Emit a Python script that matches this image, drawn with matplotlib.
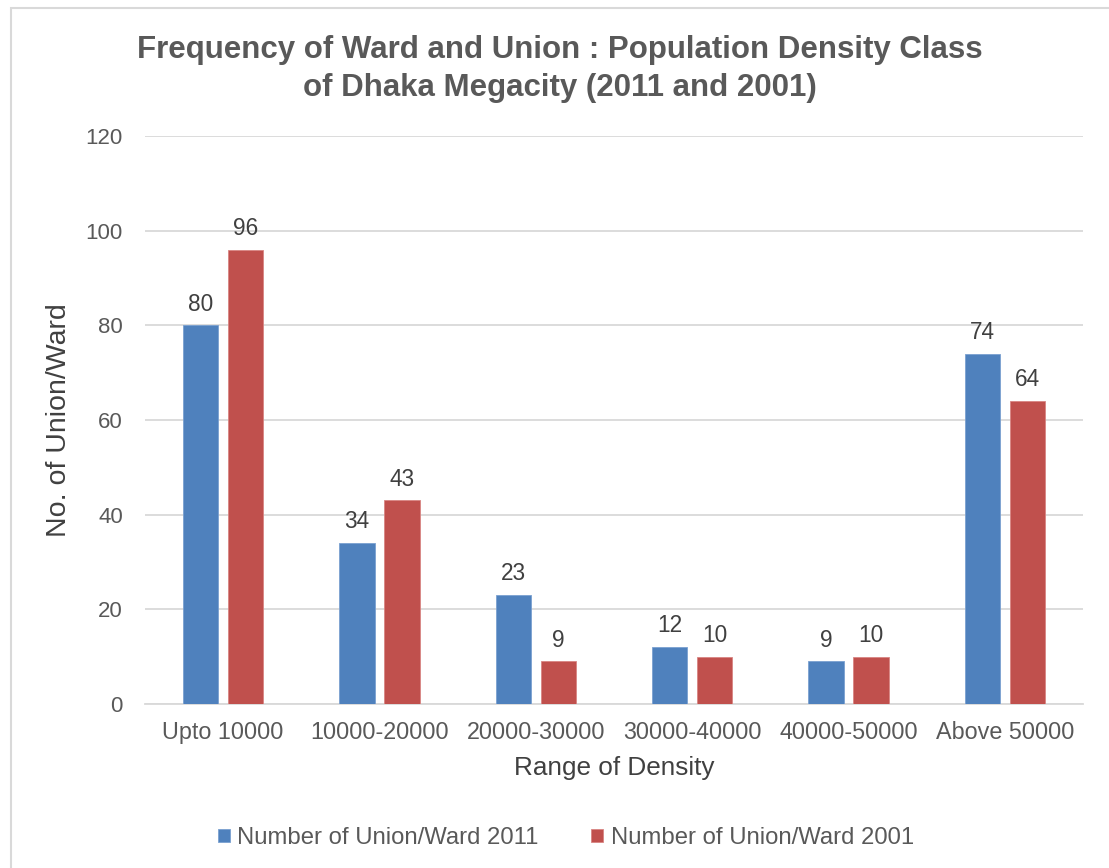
import matplotlib
matplotlib.use("Agg")
import matplotlib.pyplot as plt
import numpy as np
from matplotlib.patches import Rectangle

categories = ["Upto 10000", "10000-20000", "20000-30000", "30000-40000", "40000-50000", "Above 50000"]
counts_2011 = [80, 34, 23, 12, 9, 74]
counts_2001 = [96, 43, 9, 10, 10, 64]
series_names = ["Number of Union/Ward 2011", "Number of Union/Ward 2001"]
y_ticks = [0, 20, 40, 60, 80, 100, 120]

plt.rcParams["font.family"] = ["Liberation Sans", "DejaVu Sans"]

BLUE = "#4f81bd"
RED = "#c0504d"
TICK_COLOR = "#595959"
LABEL_COLOR = "#404040"
GRID_COLOR = "#d9d9d9"

W, H = 1109, 868
fig = plt.figure(figsize=(W / 100, H / 100), dpi=100)
fig.patch.set_facecolor("white")

# outer chart frame
fig.add_artist(Rectangle((10.5 / W, -0.1), 1.2, 1 - 8.5 / H + 0.1, transform=fig.transFigure,
                         fill=False, edgecolor=GRID_COLOR, lw=1.5))

ax = fig.add_axes([145 / W, 1 - 704 / H, 938 / W, 568 / H])

x = np.arange(len(categories))
bar_w = 0.225
off = 0.144
b1 = ax.bar(x - off, counts_2011, bar_w, color=BLUE, edgecolor="#7aa0d0", linewidth=0.6,
            label=series_names[0], zorder=3)
b2 = ax.bar(x + off, counts_2001, bar_w, color=RED, edgecolor="#d88583", linewidth=0.6,
            label=series_names[1], zorder=3)

for bars, vals in ((b1, counts_2011), (b2, counts_2001)):
    for rect, v in zip(bars, vals):
        ax.annotate(f"{v}", (rect.get_x() + rect.get_width() / 2, v), xytext=(0, 7),
                    textcoords="offset points", ha="center", va="bottom",
                    fontsize=16.3, color=LABEL_COLOR)

ax.set_xlim(-0.5, len(categories) - 0.5)
ax.set_ylim(0, 120)
ax.set_yticks(y_ticks)
ax.set_xticks(x)
ax.set_xticklabels(categories)
ax.tick_params(axis="x", length=0, pad=12, labelsize=16.8, labelcolor=TICK_COLOR)
ax.tick_params(axis="y", length=0, pad=16, labelsize=16, labelcolor=TICK_COLOR)
ax.grid(axis="y", color=GRID_COLOR, lw=1.3, zorder=0)
for s in ("top", "right", "left"):
    ax.spines[s].set_visible(False)
ax.spines["bottom"].set_color(GRID_COLOR)
ax.spines["bottom"].set_linewidth(1.3)
ax.set_axisbelow(True)

fig.text(614 / W, 1 - 768 / H, "Range of Density", ha="center", va="center",
         fontsize=18.8, color=LABEL_COLOR)
fig.text(59 / W, 1 - 420 / H, "No. of Union/Ward", ha="center", va="center",
         rotation=90, fontsize=20.5, color=LABEL_COLOR)

fig.text(560 / W, 1 - 50 / H, "Frequency of Ward and Union : Population Density Class",
         ha="center", va="center", fontsize=22.5, fontweight="bold", color=TICK_COLOR)
fig.text(560 / W, 1 - 88 / H, "of Dhaka Megacity (2011 and 2001)",
         ha="center", va="center", fontsize=22.5, fontweight="bold", color=TICK_COLOR)

fig.legend(handles=[b1, b2], labels=series_names, loc="center",
           bbox_to_anchor=(566 / W, 1 - 838 / H), ncol=2, frameon=False,
           fontsize=17.2, labelcolor=TICK_COLOR, handlelength=0.5, handleheight=0.5,
           handletextpad=0.3, columnspacing=2.2)

fig.savefig("out.png", dpi=100)
